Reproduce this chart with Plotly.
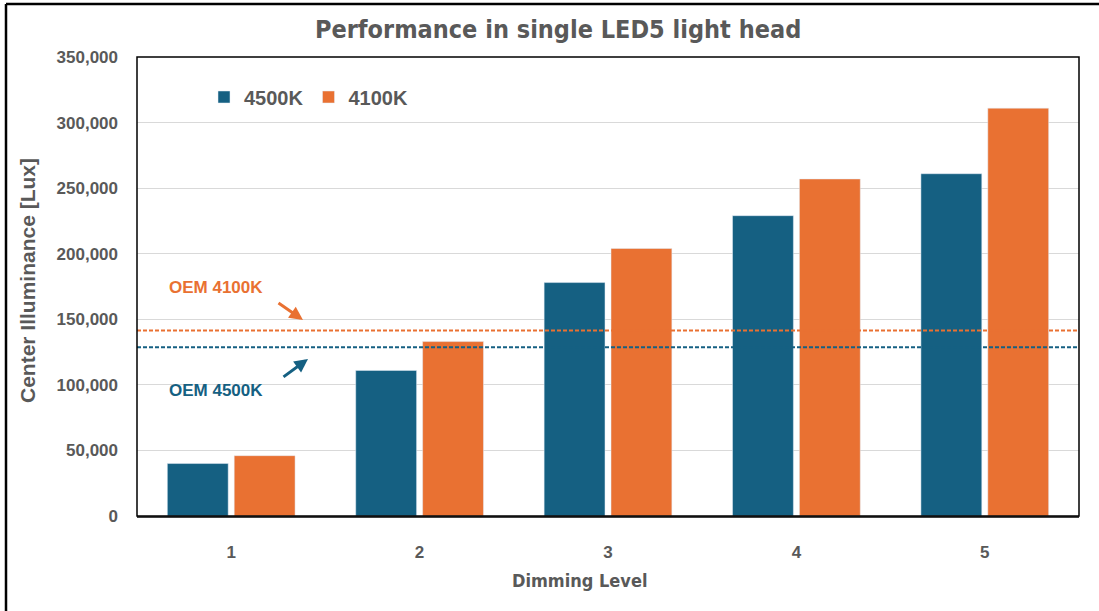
import plotly.graph_objects as go

# Dimming levels and measured center illuminance (lux)
levels = ["1", "2", "3", "4", "5"]
lux_4500k = [40000, 111000, 178000, 229000, 261000]
lux_4100k = [46000, 133000, 204000, 257000, 311000]

# OEM reference illuminance
oem_4100k = 141500
oem_4500k = 128600

y_ticks = [0, 50000, 100000, 150000, 200000, 250000, 300000, 350000]

BLUE = "#156082"
ORANGE = "#E97132"
GRAY = "#595959"
ARIAL = "Liberation Sans, Arial, sans-serif"
NARROW = "DejaVu Sans Condensed, DejaVu Sans, sans-serif"

W, H = 1099, 611
L, R, T, B = 137, 20, 57, 95
PW, PH = W - L - R, H - T - B


def px(x):
    return (x - L) / PW


def py(y):
    return (H - B - y) / PH


fig = go.Figure()
fig.add_trace(go.Bar(x=levels, y=lux_4500k, name="4500K", marker_color=BLUE))
fig.add_trace(go.Bar(x=levels, y=lux_4100k, name="4100K", marker_color=ORANGE))

shapes = [
    # OEM reference lines
    dict(type="line", xref="paper", yref="y", x0=0, x1=1, y0=oem_4100k, y1=oem_4100k,
         line=dict(color=ORANGE, width=2, dash="4px,2px"), layer="above"),
    dict(type="line", xref="paper", yref="y", x0=0, x1=1, y0=oem_4500k, y1=oem_4500k,
         line=dict(color=BLUE, width=2, dash="4px,2px"), layer="above"),
    # plot frame
    dict(type="rect", xref="paper", yref="paper", x0=0, x1=1, y0=0, y1=1,
         line=dict(color="black", width=1.5), layer="above"),
    # outer frame (top and left edges)
    dict(type="line", xref="paper", yref="paper", x0=px(6), x1=px(1105), y0=py(4), y1=py(4),
         line=dict(color="black", width=2.5)),
    dict(type="line", xref="paper", yref="paper", x0=px(6), x1=px(6), y0=py(4), y1=py(620),
         line=dict(color="black", width=2.5)),
]

annotations = [
    dict(text="Performance in single LED5 light head", xref="paper", yref="paper",
         x=px(558), y=py(30), showarrow=False, xanchor="center", yanchor="middle",
         font=dict(family=NARROW, size=25, color=GRAY, weight="bold")),
    dict(text="Center Illuminance [Lux]", xref="paper", yref="paper",
         x=px(27), y=py(281), showarrow=False, textangle=-90,
         xanchor="center", yanchor="middle",
         font=dict(family=ARIAL, size=21, color=GRAY, weight="bold")),
    dict(text="Dimming Level", xref="paper", yref="paper",
         x=px(579), y=py(580), showarrow=False, xanchor="center", yanchor="middle",
         font=dict(family=NARROW, size=18, color=GRAY, weight="bold")),
    dict(text="OEM 4100K", xref="paper", yref="paper",
         x=px(216), y=py(287), showarrow=False, xanchor="center", yanchor="middle",
         font=dict(family=ARIAL, size=17, color=ORANGE, weight="bold")),
    dict(text="OEM 4500K", xref="paper", yref="paper",
         x=px(216), y=py(390), showarrow=False, xanchor="center", yanchor="middle",
         font=dict(family=ARIAL, size=17, color=BLUE, weight="bold")),
    dict(text="", xref="paper", yref="paper", x=px(303), y=py(320),
         showarrow=True, ax=-26, ay=-18, arrowhead=2, arrowsize=0.9, arrowwidth=3,
         arrowcolor=ORANGE),
    dict(text="", xref="paper", yref="paper", x=px(308), y=py(359),
         showarrow=True, ax=-26, ay=19, arrowhead=2, arrowsize=0.9, arrowwidth=3,
         arrowcolor=BLUE),
]

fig.update_layout(
    width=W, height=H,
    margin=dict(l=L, r=R, t=T, b=B, pad=0),
    paper_bgcolor="white", plot_bgcolor="white",
    barmode="group", bargap=0.29, bargroupgap=0.09,
    showlegend=True,
    legend=dict(orientation="h", x=px(204), y=py(97), xanchor="left", yanchor="middle",
                font=dict(family=ARIAL, size=20, color=GRAY, weight="bold"),
                bgcolor="rgba(0,0,0,0)", itemwidth=30, traceorder="normal"),
    shapes=shapes,
    annotations=annotations,
    xaxis=dict(showgrid=False, showline=True, linecolor="#404040", linewidth=1.5,
               ticks="", ticklabelstandoff=20,
               tickfont=dict(family=ARIAL, size=17, color=GRAY, weight="bold")),
    yaxis=dict(range=[0, 350000], tickvals=y_ticks, tickformat=",",
               showgrid=True, gridcolor="#D9D9D9", gridwidth=1,
               zeroline=False, showline=False, ticks="", ticklabelstandoff=18,
               tickfont=dict(family=ARIAL, size=17, color=GRAY, weight="bold")),
)

fig.write_html("out.html")
